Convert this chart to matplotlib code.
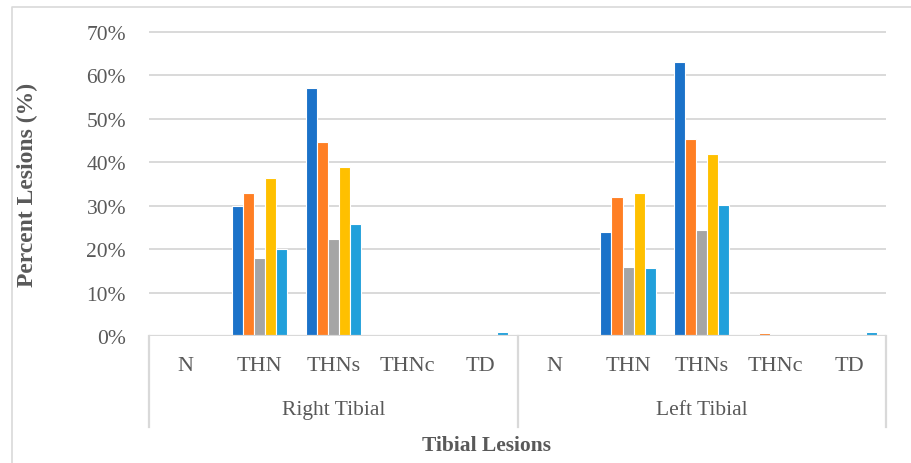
import numpy as np
import matplotlib
matplotlib.use("Agg")
import matplotlib.pyplot as plt
import matplotlib.transforms as mtransforms
from matplotlib.lines import Line2D

# Tibial lesion percentages per group (right then left), five series each
sides = ["Right Tibial", "Left Tibial"]
lesions = ["N", "THN", "THNs", "THNc", "TD"]

s1 = [0, 30.0, 57.0, 0, 0,      0, 24.0, 63.0, 0, 0]
s2 = [0, 33.0, 44.7, 0.3, 0,    0, 32.0, 45.4, 0.6, 0]
s3 = [0, 18.0, 22.3, 0, 0,      0, 16.0, 24.3, 0, 0]
s4 = [0, 36.4, 39.0, 0, 0,      0, 33.0, 41.9, 0, 0.2]
s5 = [0, 20.0, 25.7, 0, 0.9,    0, 15.7, 30.1, 0, 1.0]
series = [s1, s2, s3, s4, s5]
colors = ["#1B72C9", "#FF7F24", "#A5A5A5", "#FFC000", "#21A0DB"]

W, H = 911, 464
txt = "#595959"
grid = "#D9D9D9"
plt.rcParams["font.family"] = ["Liberation Serif", "DejaVu Serif"]

fig = plt.figure(figsize=(W / 100, H / 100), dpi=100)
x0, x1 = 149, 886
y0, y70 = 337, 33
ymax = 72
ytop = y0 - (y0 - y70) / 70 * ymax
ax = fig.add_axes([x0 / W, 1 - y0 / H, (x1 - x0) / W, (y0 - ytop) / H])

n = len(s1)
x = np.arange(n)
bw = 0.75 / 5
for i, (vals, c) in enumerate(zip(series, colors)):
    ax.bar(x - 0.375 + bw * (i + 0.5), np.array(vals) / 100, width=bw,
           color=c, edgecolor="white", linewidth=0.8, zorder=3)

ax.set_xlim(-0.5, n - 0.5)
ax.set_ylim(0, ymax / 100)
ticks = np.arange(0, 0.71, 0.1)
ax.set_yticks(ticks)
ax.set_yticklabels([f"{int(round(t * 100))}%" for t in ticks], color=txt, fontsize=15.5)
ax.tick_params(axis="y", length=0, pad=16.5)
ax.set_xticks([])
for t in ticks[1:]:
    ax.axhline(t, color=grid, linewidth=1.4, zorder=1)
ax.axhline(0, color=grid, linewidth=1.6, zorder=4)
for sp in ax.spines.values():
    sp.set_visible(False)

# category axis: lesion labels, side labels and separators
tr = mtransforms.blended_transform_factory(ax.transData, fig.transFigure)
for k in range(n):
    ax.text(x[k], 1 - 367 / H, lesions[k % 5], transform=tr, ha="center",
            va="center", color=txt, fontsize=16)
for j, side in enumerate(sides):
    ax.text(j * 5 + 2, 1 - 411 / H, side, transform=tr, ha="center",
            va="center", color=txt, fontsize=15.5)
for xs in [-0.5, 4.5, 9.5]:
    fig.add_artist(Line2D([xs, xs], [1 - y0 / H, 1 - 428 / H], transform=tr,
                          color=grid, linewidth=1.6))

ax.set_ylabel("Percent Lesions (%)", color=txt, fontsize=17, fontweight="bold")
ax.yaxis.set_label_coords(38 / W, 1 - 185 / H, transform=fig.transFigure)
fig.text(486 / W, 1 - 446 / H, "Tibial Lesions", ha="center", va="center",
         color=txt, fontsize=15.5, fontweight="bold")

# chart area border
fig.add_artist(Line2D([12 / W, 12 / W, 1.0], [0, 1 - 8 / H, 1 - 8 / H],
                      transform=fig.transFigure, color=grid, linewidth=1.2))

fig.savefig("out.png", dpi=100)
